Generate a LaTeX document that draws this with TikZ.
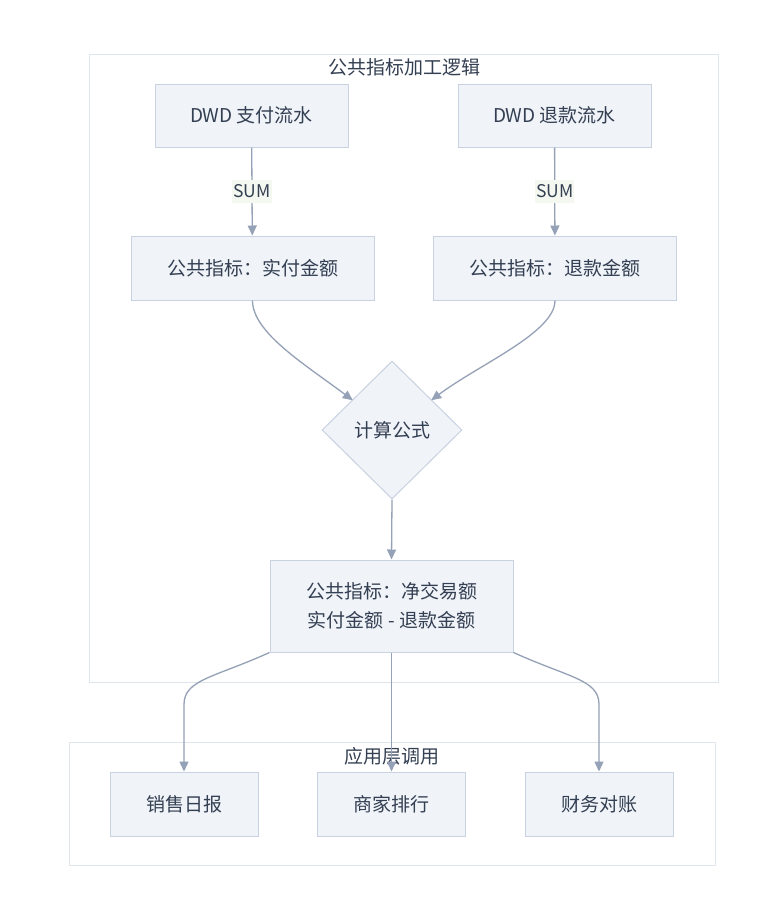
\documentclass[tikz,border=0pt]{standalone}
\usepackage{fontspec}
\setmainfont{Noto Sans CJK SC}
\usetikzlibrary{shapes.geometric,arrows.meta,calc}
\definecolor{nodefill}{RGB}{240,243,248}
\definecolor{nodeline}{RGB}{200,210,225}
\definecolor{textcol}{RGB}{51,63,82}
\definecolor{arrowcol}{RGB}{148,161,182}
\definecolor{clusterline}{RGB}{224,229,236}
\definecolor{labelfill}{RGB}{245,248,240}
\begin{document}
\begin{tikzpicture}[
        x=1pt, y=-1pt,
        font=\fontsize{19}{29}\selectfont, text=textcol,
        box/.style={rectangle, draw=nodeline, fill=nodefill, line width=1pt, align=center, inner sep=0pt},
        cond/.style={diamond, draw=nodeline, fill=nodefill, line width=1pt, inner sep=0pt, minimum width=140pt, minimum height=138pt},
        cluster/.style={draw=clusterline, fill=white, line width=1pt},
        flow/.style={draw=arrowcol, line width=1.3pt, -{Triangle[length=10pt,width=9pt]}},
        edgelabel/.style={fill=labelfill, inner xsep=1pt, inner ysep=5pt, font=\fontsize{17.5}{20}\selectfont}
    ]
    \useasboundingbox[fill=white] (0,0) rectangle (758,922);
    % subgraphs
    \draw[cluster] (89,54) rectangle (718,682);
    \node (logictitle) at (404,67) {公共指标加工逻辑};
    \draw[cluster] (69,742) rectangle (715,865);
    \node (apptitle) at (392,756) {应用层调用};
    % nodes
    \node[box, minimum width=193pt, minimum height=63pt] (payflow) at (251.5,115.5) {DWD 支付流水};
    \node[box, minimum width=193pt, minimum height=63pt] (refundflow) at (554.5,115.5) {DWD 退款流水};
    \node[box, minimum width=243pt, minimum height=64pt] (paid) at (252.5,268) {公共指标：实付金额};
    \node[box, minimum width=243pt, minimum height=64pt] (refunded) at (555,268) {公共指标：退款金额};
    \node[cond] (formula) at (392,430) {计算公式};
    \node[box, minimum width=243pt, minimum height=92pt] (net) at (391.5,606) {公共指标：净交易额\\实付金额 - 退款金额};
    \node[box, minimum width=148pt, minimum height=64pt] (daily) at (184,804) {销售日报};
    \node[box, minimum width=148pt, minimum height=64pt] (shop) at (391.5,804) {商家排行};
    \node[box, minimum width=148pt, minimum height=64pt] (finance) at (599,804) {财务对账};
    % edges
    \draw[flow] (payflow) -- node[edgelabel] {SUM} (paid);
    \draw[flow] (refundflow) -- node[edgelabel] {SUM} (refunded);
    \draw[flow] (paid.south) .. controls +(0,32) and +(-48,-36) .. ($(formula.north west)+(-4,5)$);
    \draw[flow] (refunded.south) .. controls +(0,32) and +(48,-36) .. ($(formula.north east)+(4,5)$);
    \draw[flow] (formula.south) -- (net.north);
    \draw[flow] (net.south west) .. controls +(-55,25) and +(0,-25) .. ($(daily.north)+(0,-67)$) -- (daily.north);
    \draw[flow] (net.south) -- (shop.north);
    \draw[flow] (net.south east) .. controls +(55,25) and +(0,-25) .. ($(finance.north)+(0,-67)$) -- (finance.north);
\end{tikzpicture}
\end{document}
